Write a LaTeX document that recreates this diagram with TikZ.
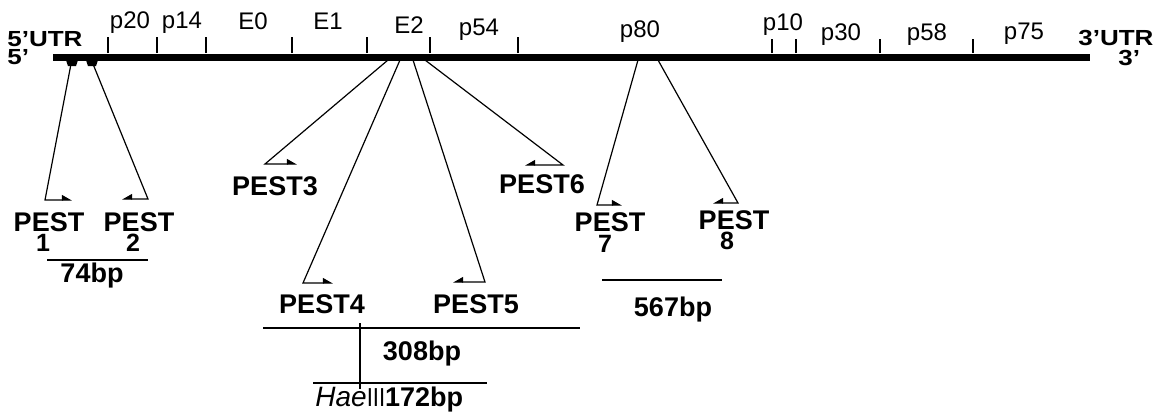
\documentclass[tikz,border=0pt]{standalone}
\usepackage{fontspec}
\setmainfont{Liberation Sans}
\usetikzlibrary{arrows.meta}
\begin{document}
\begin{tikzpicture}[x=0.5pt,y=-0.5pt,
  gene/.style={line width=3.5pt},
  tickmark/.style={line width=1pt},
  conn/.style={line width=0.6pt},
  scalebar/.style={line width=0.7pt},
  rarrow/.style={conn,-{Triangle[left,length=4.5pt,width=5pt]}},
  larrow/.style={conn,-{Triangle[right,length=4.5pt,width=5pt]}},
  reg/.style={font=\fontsize{12}{13}\selectfont, inner sep=0pt, anchor=base},
  lab/.style={font=\bfseries\fontsize{13.5}{14}\selectfont, inner sep=0pt, anchor=base},
  num/.style={font=\bfseries\fontsize{12.5}{13}\selectfont, inner sep=0pt, anchor=base},
  utr/.style={font=\bfseries\fontsize{13}{14}\selectfont, inner sep=0pt, anchor=base west, yscale=0.84, transform shape},
]
\useasboundingbox (0,0) rectangle (1158,414);

% genome line
\coordinate (g5) at (53,57);
\coordinate (g3) at (1090,57);
\draw[gene] (g5) -- (g3);

% gene boundaries
\foreach \x in {108,157,206,292,367,430,518}
  \draw[tickmark] (\x,53) -- (\x,37);
\foreach \x in {772,796,880,973}
  \draw[tickmark] (\x,53) -- (\x,39);

% gene names
\node[reg] (p20) at (130,28) {p20};
\node[reg] (p14) at (182,28) {p14};
\node[reg] (e0)  at (253,29) {E0};
\node[reg] (e1)  at (328,29) {E1};
\node[reg] (e2)  at (409,33) {E2};
\node[reg] (p54) at (479,35) {p54};
\node[reg] (p80) at (640,37) {p80};
\node[reg] (p10) at (783,30) {p10};
\node[reg] (p30) at (841,40) {p30};
\node[reg] (p58) at (927,40) {p58};
\node[reg] (p75) at (1024,39) {p75};

% genome ends
\node[utr] (utr5) at (7,46) {5'UTR};
\node[utr] (end5) at (7,64) {5'};
\node[utr] (utr3) at (1078,45) {3'UTR};
\node[utr] (end3) at (1118,65) {3'};

% markers for PEST1 and PEST2
\fill (66,60) -- (78,60) -- (76,66) -- (68,66) -- cycle;
\fill (86,60) -- (98,60) -- (96,66) -- (88,66) -- cycle;

% origins on the genome line
\coordinate (o1) at (71,64);
\coordinate (o2) at (93,64);
\coordinate (o3) at (388,60);
\coordinate (o4) at (400,60);
\coordinate (o5) at (413,60);
\coordinate (o6) at (425,60);
\coordinate (o7) at (638,60);
\coordinate (o8) at (658,60);

% bracket corners and arrow ends
\coordinate (c1) at (45,200);  \coordinate (t1) at (72,200);
\coordinate (c2) at (148,199); \coordinate (t2) at (122,199);
\coordinate (c3) at (265,164); \coordinate (t3) at (297,164);
\coordinate (c4) at (303,283); \coordinate (t4) at (333,283);
\coordinate (c5) at (485,282); \coordinate (t5) at (453,282);
\coordinate (c6) at (563,165); \coordinate (t6) at (525,165);
\coordinate (c7) at (597,205); \coordinate (t7) at (622,205);
\coordinate (c8) at (738,203); \coordinate (t8) at (713,203);

\draw[rarrow] (o1) -- (c1) -- (t1);
\draw[larrow] (o2) -- (c2) -- (t2);
\draw[rarrow] (o3) -- (c3) -- (t3);
\draw[rarrow] (o4) -- (c4) -- (t4);
\draw[larrow] (o5) -- (c5) -- (t5);
\draw[larrow] (o6) -- (c6) -- (t6);
\draw[rarrow] (o7) -- (c7) -- (t7);
\draw[larrow] (o8) -- (c8) -- (t8);

% PEST labels
\node[lab] (pest1) at (49,231) {PEST};
\node[num] (n1)    at (43,251) {1};
\node[lab] (pest2) at (139,231) {PEST};
\node[num] (n2)    at (133,251) {2};
\node[lab] (pest3) at (275,195) {PEST3};
\node[lab] (pest4) at (322,313) {PEST4};
\node[lab] (pest5) at (476,313) {PEST5};
\node[lab] (pest6) at (542,193) {PEST6};
\node[lab] (pest7) at (610,231) {PEST};
\node[num] (n7)    at (605,252) {7};
\node[lab] (pest8) at (734,229) {PEST};
\node[num] (n8)    at (727,249) {8};

% fragment sizes
\coordinate (a74) at (47,260);  \coordinate (b74) at (148,260);
\draw[scalebar] (a74) -- (b74);
\node[lab] (s74) at (92,282) {74bp};

\coordinate (a567) at (602,280); \coordinate (b567) at (722,280);
\draw[scalebar] (a567) -- (b567);
\node[lab] (s567) at (673,316) {567bp};

\coordinate (a308) at (263,328); \coordinate (b308) at (580,328);
\draw[scalebar] (a308) -- (b308);
\node[lab] (s308) at (422,360) {308bp};

\coordinate (cutT) at (360,323); \coordinate (cutB) at (360,389);
\draw[scalebar] (cutT) -- (cutB);

\coordinate (a172) at (313,383); \coordinate (b172) at (487,383);
\draw[scalebar] (a172) -- (b172);
\node[lab, anchor=base west] (s172) at (315,406)
  {{\mdseries\itshape\fontsize{14}{15}\selectfont Hae}{\mdseries\fontsize{13}{14}\selectfont\scalebox{0.85}[1]{III}}172bp};
\end{tikzpicture}
\end{document}
